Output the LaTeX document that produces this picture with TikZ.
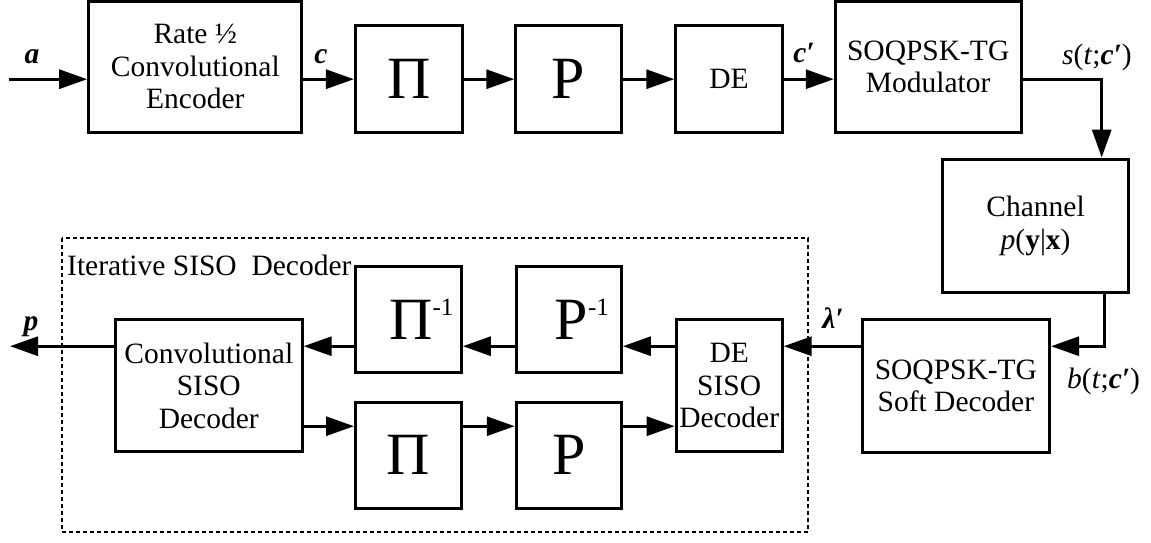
\documentclass[tikz,border=0pt]{standalone}
\usepackage{fontspec}
\setmainfont{Liberation Serif}
\usetikzlibrary{arrows.meta}

\newcommand{\inv}{\raisebox{24pt}{\fontsize{25}{25}\selectfont -1}}

\begin{document}
\begin{tikzpicture}[x=1pt, y=-1pt,
  blk/.style={draw, line width=3pt, align=center, inner sep=0pt,
              font=\fontsize{29.5}{32.5}\selectfont},
  big/.style={blk, font=\fontsize{60}{60}\selectfont},
  wire/.style={line width=3pt},
  conn/.style={wire, -{Triangle[length=28pt,width=19pt]}},
  lbl/.style={anchor=base, inner sep=0pt, font=\fontsize{29.5}{32.5}\selectfont},
  frame/.style={line width=1.8pt, dash pattern=on 4pt off 3pt}]

\useasboundingbox (0,0) rectangle (1151,542);

% transmitter chain
\node[blk, minimum width=213.3pt, minimum height=131pt] (enc) at (195.3,66.8)
  {Rate ½\\Convolutional\\Encoder};
\node[big, minimum width=106.7pt, minimum height=107.3pt] (pi1) at (408.8,79.2) {Π};
\node[big, minimum width=105.4pt, minimum height=107.3pt] (p1) at (568.5,79.2) {P};
\node[blk, minimum width=106.4pt, minimum height=107.3pt] (de1) at (729,79.2) {DE};
\node[blk, minimum width=185.9pt, minimum height=131pt] (mod) at (928.2,66.8)
  {SOQPSK-TG\\Modulator};
\node[blk, minimum width=186.5pt, minimum height=133.8pt] (chan) at (1035.6,225.9)
  {Channel\\\textit{p}(\textbf{y}|\textbf{x})};
\node[blk, minimum width=187.3pt, minimum height=132.5pt] (soft) at (955.9,386)
  {SOQPSK-TG\\Soft Decoder};

% receiver blocks
\node[blk, minimum width=106pt, minimum height=131.6pt] (desiso) at (729.2,385.5)
  {DE\\SISO\\Decoder};
\node[big, minimum width=105.1pt, minimum height=106pt] (pinv) at (568.8,319.2)
  {\hspace*{26pt}P\inv};
\node[big, minimum width=105.8pt, minimum height=106pt] (piinv) at (408.4,319.2)
  {\hspace*{26pt}Π\inv};
\node[big, minimum width=105.8pt, minimum height=105.8pt] (pi2) at (408.4,455.1) {Π};
\node[big, minimum width=105.1pt, minimum height=105.8pt] (p2) at (568.8,455.1) {P};
\node[blk, minimum width=186.7pt, minimum height=131.6pt] (conv) at (208.8,385.5)
  {Convolutional\\SISO\\Decoder};

% iterative decoder frame
\draw[frame] (62.2,238.3) rectangle (808.3,532.2);
\node[lbl, anchor=base west] (title) at (67,275) {Iterative SISO\ \ Decoder};

% helper points
\coordinate (ain) at (9.3,79.2);
\coordinate (tap) at (1101.7,79.2);
\coordinate (low) at (1104.2,346.2);
\coordinate (pout) at (10,346.2);
\coordinate (rowa) at (0,346.2);
\coordinate (rowb) at (0,426.2);

% connectors, top chain
\draw[conn] (ain) -- (ain -| enc.west);
\draw[conn] (enc.east |- pi1) -- (pi1.west);
\draw[conn] (pi1.east) -- (p1.west);
\draw[conn] (p1.east) -- (de1.west);
\draw[conn] (de1.east) -- (de1.east -| mod.west);
\draw[conn] (mod.east |- tap) -- (tap) -- (tap |- chan.north);
\draw[conn] (low |- chan.south) -- (low) -- (low -| soft.east);
\draw[conn] (low -| soft.west) -- (low -| desiso.east);

% connectors, decoder loop
\draw[conn] (rowa -| desiso.west) -- (rowa -| pinv.east);
\draw[conn] (rowa -| pinv.west) -- (rowa -| piinv.east);
\draw[conn] (rowa -| piinv.west) -- (rowa -| conv.east);
\draw[conn] (rowa -| conv.west) -- (pout);
\draw[conn] (rowb -| conv.east) -- (rowb -| pi2.west);
\draw[conn] (rowb -| pi2.east) -- (rowb -| p2.west);
\draw[conn] (rowb -| p2.east) -- (rowb -| desiso.west);

% signal labels
\node[lbl] (la) at (32,63) {\textbf{\textit{a}}};
\node[lbl] (lc) at (321,63) {\textbf{\textit{c}}};
\node[lbl] (lc2) at (804,62) {\textbf{\textit{c′}}};
\node[lbl, anchor=base west] (ls) at (1062,64) {\textit{s}(\textit{t};\textbf{\textit{c′}})};
\node[lbl, anchor=base west] (lb) at (1067,388) {\textit{b}(\textit{t};\textbf{\textit{c′}})};
\node[lbl] (ll) at (833,328) {\textbf{\textit{λ′}}};
\node[lbl] (lp) at (31,330) {\textbf{\textit{p}}};
\end{tikzpicture}
\end{document}
